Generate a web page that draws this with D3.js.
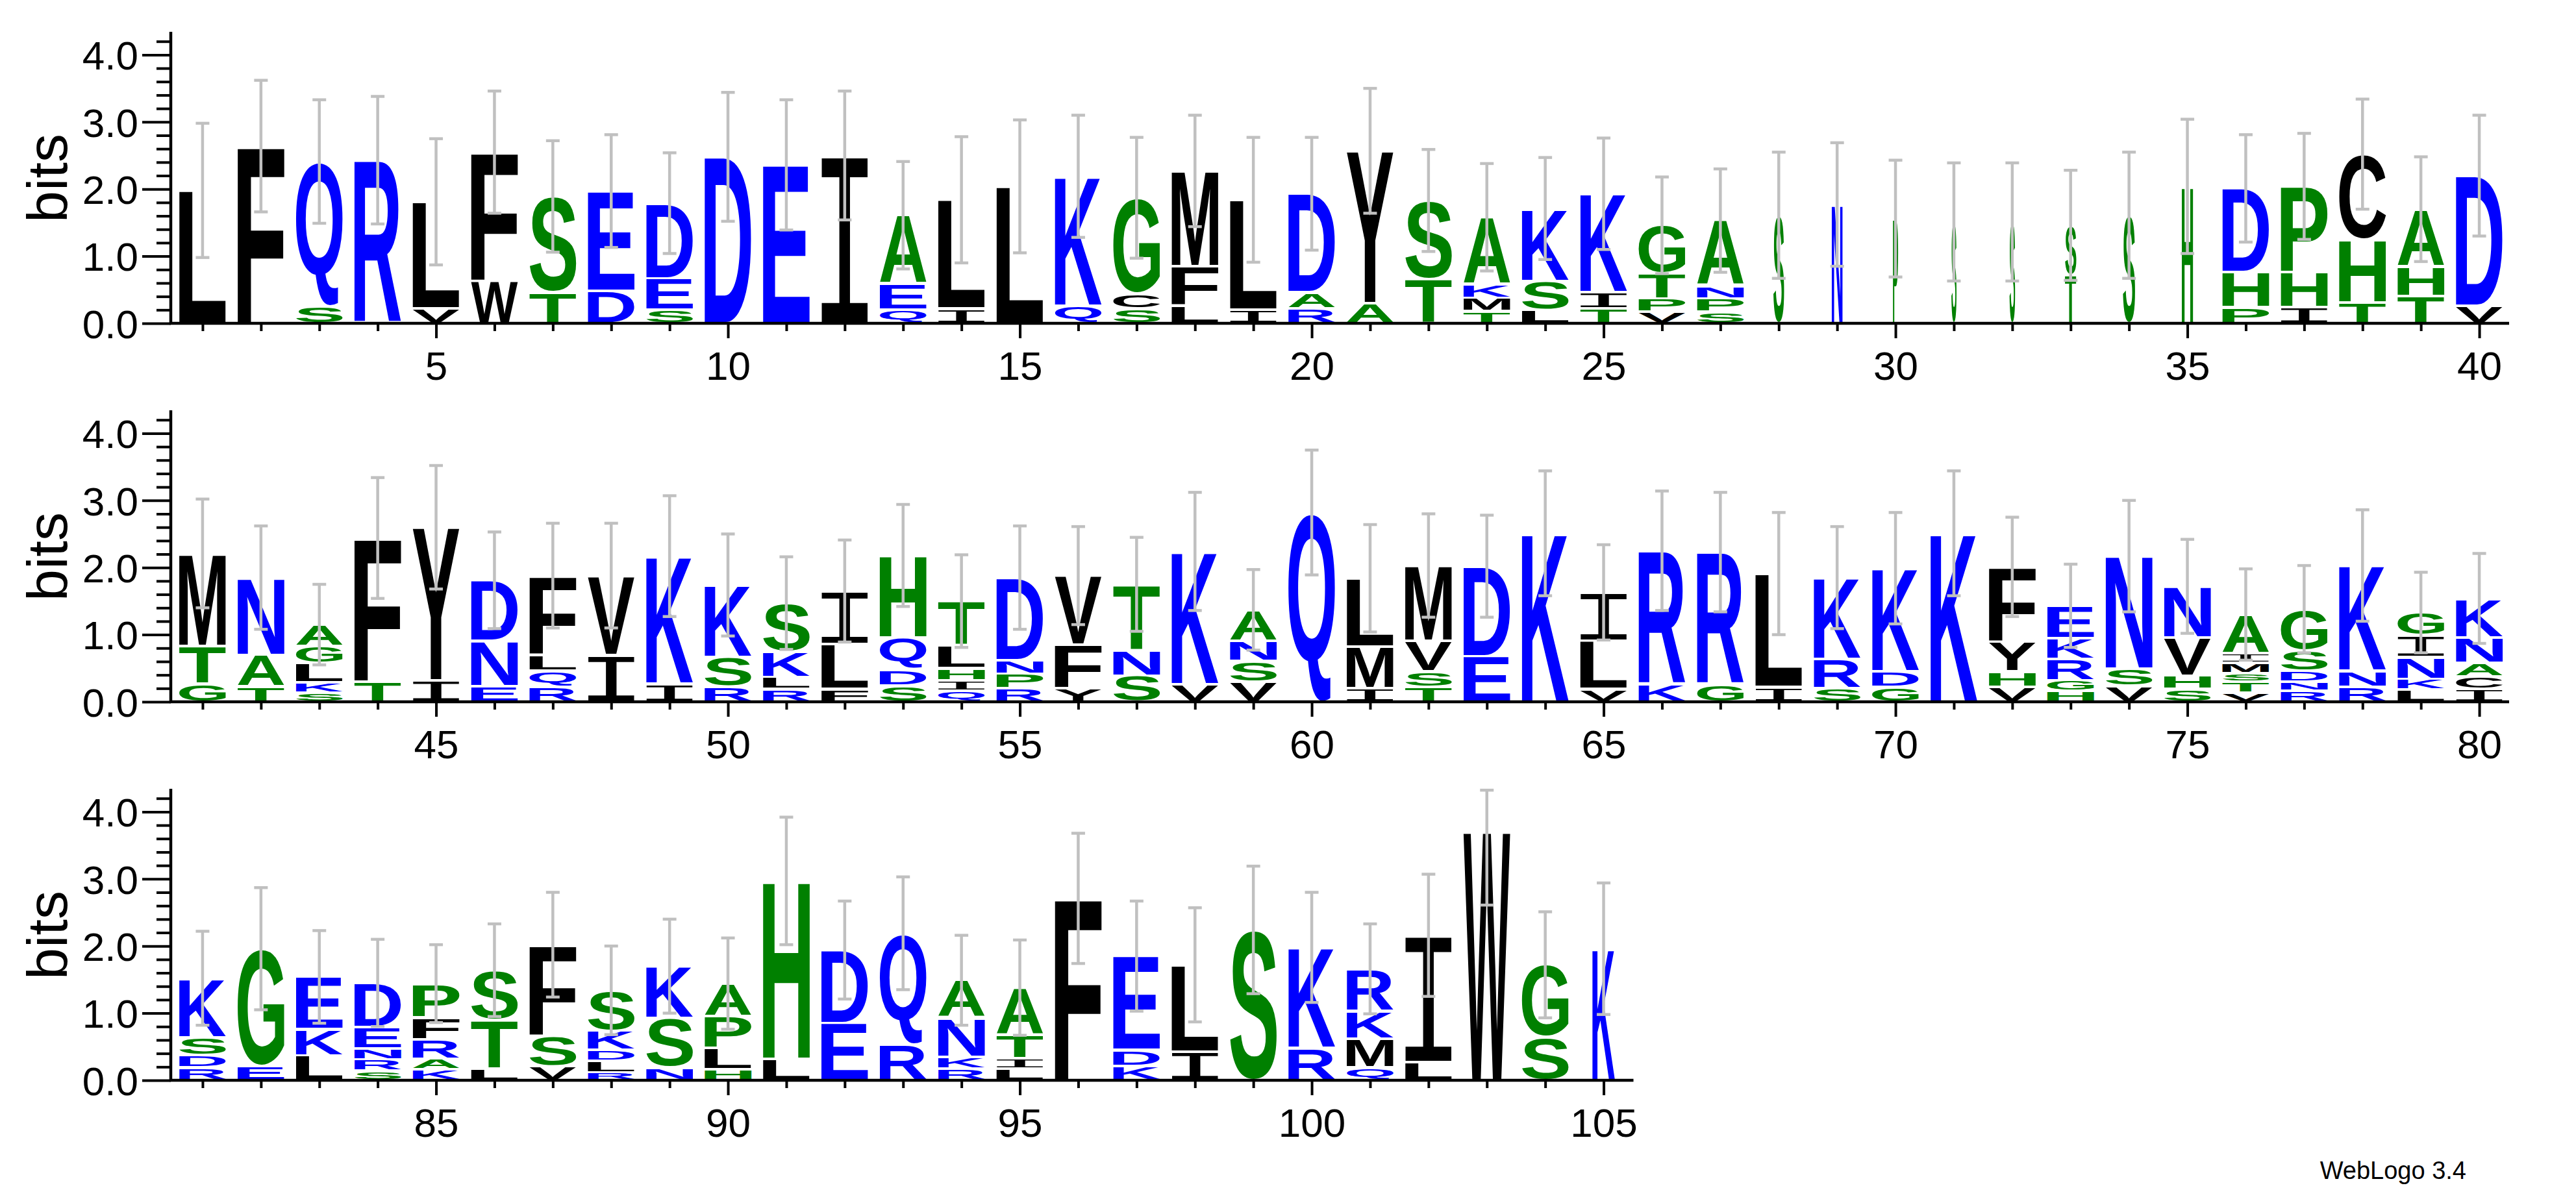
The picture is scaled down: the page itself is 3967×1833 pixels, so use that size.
<!DOCTYPE html>
<html><head><meta charset="utf-8">
<script src="https://cdn.jsdelivr.net/npm/d3@7"></script>
<style>body{margin:0;background:#fff} svg{display:block}</style>
</head><body>
<svg id="chart" width="3967" height="1833"></svg>
<script>
// ---------------- DATA ----------------
const positions = d3.range(1, 106);
// letters of each stack, bottom -> top
const letters = [
 "L","F","SQ","R","VL","WF","TS","DE","SED","D","E","I","QEA","IL","L","QK","SCG","LFM","IL","RAD",
 "AY","TS","TMKA","LSK","TIK","VPTG","SPNA","S","N","P","S","S","TS","S","H","PHD","IHP","THC","THA","VD",
 "GTM","TAN","SKLGA","TF","IY","END","RQLF","IV","IK","RSK","RLKS","FLI","SDQH","QIHLT","RPND","YFV","SNT","VK","VSNA","Q",
 "IML","TSVM","ED","K","VLI","KR","GR","IL","SRK","GDK","K","VHYF","HGRKE","VSN","SHVN","VTSMIA","RNDSG","RNK","LKNIG","ICANK",
 "RDSK","EG","LKE","SRNED","KARFP","LTS","VSF","RLDKS","NSK","HLPA","LH","ED","RQ","RKNA","LITA","F","KDE","IL","S","RK",
 "QMKR","LI","W","SG","K"
];
// letter heights in bits, bottom -> top
const heights = [
 [1.98],[2.64],[0.26,2.15],[2.43],[0.22,1.59],[0.63,1.92],[0.46,1.43],[0.48,1.49],[0.2,0.47,1.12],[2.48],
 [2.36],[2.50],[0.2,0.39,1.02],[0.22,1.62],[2.04],[0.26,1.93],[0.22,0.22,1.43],[0.26,0.59,1.42],[0.2,1.64],[0.22,0.24,1.47],
 [0.3,2.27],[0.66,1.17],[0.18,0.2,0.2,1.0],[0.2,0.43,1.08],[0.22,0.24,1.47],[0.17,0.2,0.37,0.72],[0.17,0.2,0.19,0.97],[1.61],[1.77],[1.56],
 [1.51],[1.51],[0.72,0.74],[1.61],[2.04],[0.24,0.52,1.25],[0.24,0.52,1.28],[0.31,0.94,1.27],[0.41,0.44,0.85],[0.26,1.94],
 [0.27,0.56,1.38],[0.23,0.47,1.15],[0.14,0.15,0.29,0.25,0.32],[0.3,2.14],[0.32,2.28],[0.23,0.68,0.9],[0.23,0.23,0.24,1.18],[0.7,1.18],[0.27,1.9],[0.23,0.44,1.07],
 [0.19,0.18,0.37,0.73],[0.19,0.67,0.79],[0.24,0.24,0.48,1.22],[0.16,0.16,0.18,0.34,0.66],[0.2,0.22,0.2,1.23],[0.2,0.65,1.03],[0.39,0.38,0.98],[0.26,1.98],[0.3,0.31,0.3,0.46],[2.82],
 [0.2,0.62,1.02],[0.22,0.23,0.46,1.12],[0.68,1.34],[2.51],[0.19,0.72,0.72],[0.26,1.99],[0.26,1.97],[0.22,1.69],[0.2,0.44,1.21],[0.22,0.23,1.54],
 [2.51],[0.22,0.23,0.45,1.11],[0.16,0.16,0.32,0.31,0.48],[0.24,0.25,1.68],[0.19,0.2,0.57,0.76],[0.14,0.16,0.13,0.15,0.14,0.58],[0.16,0.14,0.16,0.31,0.61],[0.22,0.24,1.57],[0.18,0.16,0.33,0.32,0.34],[0.19,0.19,0.2,0.38,0.58],
 [0.19,0.18,0.27,0.88],[0.21,1.75],[0.37,0.39,0.78],[0.14,0.17,0.16,0.32,0.66],[0.16,0.16,0.29,0.33,0.5],[0.17,0.73,0.74],[0.21,0.46,1.35],[0.12,0.17,0.16,0.29,0.6],[0.19,0.74,0.77],[0.16,0.32,0.47,0.49],
 [0.32,2.65],[0.85,1.09],[0.54,1.65],[0.17,0.18,0.58,0.56],[0.17,0.16,0.35,0.7],[2.71],[0.21,0.24,1.4],[0.43,1.29],[2.24],[0.48,1.5],
 [0.19,0.43,0.41,0.63],[0.27,1.89],[3.70],[0.64,1.08],[1.96]
];
// error bar half-lengths (bits)
const errors = [
 1.0,0.98,0.92,0.95,0.94,0.91,0.83,0.84,0.75,0.96,0.97,0.96,0.8,0.94,0.99,0.91,0.9,0.83,0.93,0.84,
 0.93,0.76,0.8,0.76,0.83,0.72,0.77,0.94,0.92,0.87,0.88,0.88,0.82,0.94,1.0,0.8,0.79,0.82,0.78,0.9,
 0.81,0.77,0.6,0.9,0.92,0.72,0.78,0.78,0.9,0.76,0.69,0.76,0.76,0.69,0.77,0.73,0.7,0.88,0.6,0.93,
 0.8,0.77,0.76,0.93,0.71,0.89,0.89,0.91,0.76,0.83,0.93,0.74,0.62,0.83,0.7,0.68,0.65,0.83,0.6,0.67,
 0.7,0.91,0.69,0.65,0.58,0.69,0.78,0.66,0.7,0.68,0.95,0.73,0.84,0.67,0.71,0.97,0.82,0.85,0.95,0.82,
 0.67,0.91,1.09,0.79,0.98
];
// columns drawn narrower (fraction of full stack width)
const narrowPositions = [28, 29, 30, 31, 32, 33, 34, 35, 105];
const narrowWidths    = [0.23, 0.23, 0.11, 0.11, 0.12, 0.24, 0.26, 0.24, 0.48];
const rowStarts = [1, 41, 81];
const rowEnds = [40, 80, 105];
const yMajorTicks = [0, 1, 2, 3, 4];
const yMinorTicks = [0.2,0.4,0.6,0.8,1.2,1.4,1.6,1.8,2.2,2.4,2.6,2.8,3.2,3.4,3.6,3.8,4.2];
const blueLetters = "RKDENQ", greenLetters = "SGHTAP", blackLetters = "YVMCLFIW";

// ---------------- LAYOUT ----------------
const svg = d3.select("#chart");
svg.append("rect").attr("width", 3967).attr("height", 1833).attr("fill", "#fff");
const YMAX = Math.log2(20);
const rowBaselines = [498, 1081, 1664];
const bitPx = 103.4;
const plotLeft = 267, plotRight40 = 3863;
const step = (plotRight40 - plotLeft) / 40;
const axisX = 263;
const LFS = 200;
const sansFont = "'Liberation Sans', Arial, sans-serif";
const fontFor = ch => ch === "I" ? {fam: "'Liberation Mono', monospace", w: "normal"} : {fam: sansFont, w: "bold"};
const colorFor = ch => blueLetters.includes(ch) ? "#0000ff" : greenLetters.includes(ch) ? "#008000" : "#000000";

const cv = document.createElement("canvas");
const ctx = cv.getContext("2d");
const inkCache = {};
function ink(ch) {
  if (inkCache[ch]) return inkCache[ch];
  const f = fontFor(ch);
  ctx.font = `${f.w} ${LFS}px ${f.fam}`;
  const m = ctx.measureText(ch);
  return inkCache[ch] = {l: m.actualBoundingBoxLeft, r: m.actualBoundingBoxRight, a: m.actualBoundingBoxAscent, d: m.actualBoundingBoxDescent};
}

rowStarts.forEach((start, ri) => {
  const end = rowEnds[ri];
  const base = rowBaselines[ri];
  const x = d3.scaleLinear().domain([start - 0.5, end + 0.5]).range([plotLeft, plotLeft + (end - start + 1) * step]);
  const y = d3.scaleLinear().domain([0, YMAX]).range([base, base - YMAX * bitPx]);
  const g = svg.append("g");
  const cols = positions.filter(p => p >= start && p <= end);

  // letters
  const glyphs = g.append("g");
  cols.forEach(p => {
    const i = p - 1;
    const ni = narrowPositions.indexOf(p);
    const w = step * 0.8 * (ni >= 0 ? narrowWidths[ni] : 1);
    const x0 = x(p) - w / 2;
    let cum = 0;
    letters[i].split("").forEach((ch, k) => {
      const h = heights[i][k];
      const yb = y(cum) - 2, yt = y(cum + h) + 2;
      cum += h;
      if (yb - yt < 1) return;
      const m = ink(ch), f = fontFor(ch);
      const sx = w / (m.l + m.r), sy = (yb - yt) / (m.a + m.d);
      glyphs.append("text")
        .attr("x", 0).attr("y", 0)
        .attr("font-family", f.fam).attr("font-weight", f.w).attr("font-size", LFS)
        .attr("fill", colorFor(ch))
        .attr("transform", `translate(${x0 + m.l * sx},${yt + m.a * sy}) scale(${sx},${sy})`)
        .text(ch);
    });
  });

  // error bars
  const eb = g.append("g").attr("stroke", "#c0c0c0").attr("stroke-width", 4.5).attr("fill", "none");
  cols.forEach(p => {
    const i = p - 1;
    const c = d3.sum(heights[i]);
    const lo = y(Math.max(0, c - errors[i])), hi = y(Math.min(YMAX, c + errors[i]));
    const cx = x(p);
    eb.append("line").attr("x1", cx).attr("x2", cx).attr("y1", lo).attr("y2", hi);
    eb.append("line").attr("x1", cx - 10.5).attr("x2", cx + 10.5).attr("y1", lo).attr("y2", lo);
    eb.append("line").attr("x1", cx - 10.5).attr("x2", cx + 10.5).attr("y1", hi).attr("y2", hi);
  });

  // x axis ticks
  const xMinor = g.append("g").attr("transform", `translate(0,${base})`)
    .call(d3.axisBottom(x).tickValues(cols.filter(p => p % 5 !== 0)).tickSize(12).tickSizeOuter(0));
  const xMajor = g.append("g").attr("transform", `translate(0,${base})`)
    .call(d3.axisBottom(x).tickValues(cols.filter(p => p % 5 === 0)).tickSize(23).tickPadding(20).tickSizeOuter(0).tickFormat(d3.format("d")));
  // y axis ticks
  const yMinor = g.append("g").attr("transform", `translate(${axisX},0)`)
    .call(d3.axisLeft(y).tickValues(yMinorTicks).tickSize(22).tickSizeOuter(0));
  const yMajor = g.append("g").attr("transform", `translate(${axisX},0)`)
    .call(d3.axisLeft(y).tickValues(yMajorTicks).tickSize(44).tickPadding(6).tickSizeOuter(0).tickFormat(d3.format(".1f")));
  [xMinor, yMinor].forEach(a => a.selectAll(".tick text").remove());
  [xMinor, xMajor, yMinor, yMajor].forEach(a => {
    a.select(".domain").remove();
    a.attr("font-size", null).attr("font-family", null);
    a.selectAll(".tick line").attr("stroke", "#000").attr("stroke-width", 4);
    a.selectAll(".tick text").attr("font-family", sansFont).attr("font-size", 62).attr("fill", "#000");
  });
  yMajor.selectAll(".tick text").attr("dy", "0.36em");

  // axis lines
  g.append("line").attr("x1", axisX - 2).attr("x2", x(end + 0.5) + 1).attr("y1", base).attr("y2", base)
    .attr("stroke", "#000").attr("stroke-width", 4.5);
  g.append("line").attr("x1", axisX).attr("x2", axisX).attr("y1", base + 2).attr("y2", y(YMAX) - 2)
    .attr("stroke", "#000").attr("stroke-width", 4.5);

  // y label
  g.append("text").attr("transform", `translate(103,${y(YMAX / 2)}) rotate(-90)`)
    .attr("text-anchor", "middle").attr("font-family", sansFont).attr("font-size", 88).attr("fill", "#000")
    .text("bits");
});

svg.append("text").attr("x", 3798).attr("y", 1816).attr("text-anchor", "end")
  .attr("font-family", sansFont).attr("font-size", 38).attr("fill", "#000").text("WebLogo 3.4");
</script>
</body></html>
